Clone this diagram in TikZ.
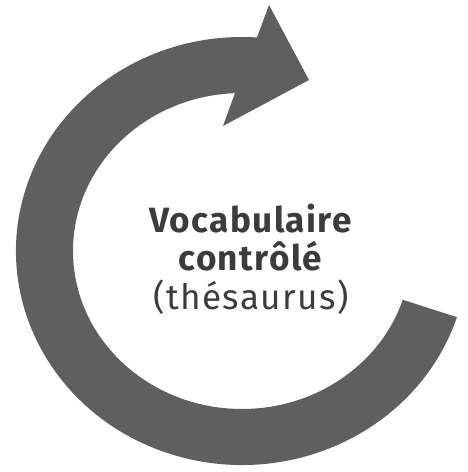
\documentclass[tikz,border=0pt]{standalone}
\usepackage{fontspec}
\setmainfont{Fira Sans}[LetterSpace=4]
\usetikzlibrary{positioning,calc}
\definecolor{cagray}{HTML}{5F5F5F}
\definecolor{catext}{HTML}{3C3C3C}

\begin{document}
\begin{tikzpicture}[
      x=0.02cm, y=0.02cm,
      ringarr/.style={fill=cagray, draw=none},
      lbl/.style={align=center, text=catext, inner sep=0pt,
                  font=\fontsize{20}{22}\selectfont}
    ]
    \useasboundingbox (0,0) rectangle (467,472);
    % ------------- ring -------------
    \coordinate (ctr) at (242,221);
    \coordinate (barbA) at (269,467);
    \coordinate (tip) at (309,392);
    \coordinate (barbB) at (223,346);
    \fill[ringarr] ($(ctr)+(-18:226 and 214)$)
      arc[start angle=-18, end angle=-273.8, x radius=226, y radius=214]
      -- (barbA) -- (tip) -- (barbB)
      -- ($(ctr)+(-267.6:169 and 158)$)
      arc[start angle=-267.6, end angle=-18, x radius=169, y radius=158]
      -- cycle;
    % ------------- label -------------
    \node[lbl] (vocab) at (251,213)
      {\textbf{Vocabulaire}\\\textbf{contrôlé}\\(thésaurus)};
  \end{tikzpicture}
\end{document}
